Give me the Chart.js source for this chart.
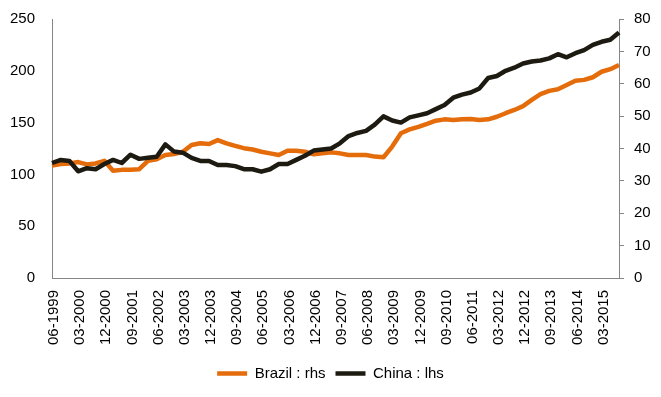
<!DOCTYPE html>
<html>
<head>
<meta charset="utf-8">
<script src="https://cdn.jsdelivr.net/npm/chart.js@4"></script>
<style>
  html, body { margin: 0; padding: 0; background: #fff; }
  #wrap { width: 661px; height: 397px; }
</style>
</head>
<body>
<div id="wrap"><canvas id="chart" width="661" height="397"></canvas></div>
<script>
// quarterly, 06-1999 .. 09-2015
const quarters = [
  '06-1999', '09-1999', '12-1999',
  '03-2000', '06-2000', '09-2000', '12-2000',
  '03-2001', '06-2001', '09-2001', '12-2001',
  '03-2002', '06-2002', '09-2002', '12-2002',
  '03-2003', '06-2003', '09-2003', '12-2003',
  '03-2004', '06-2004', '09-2004', '12-2004',
  '03-2005', '06-2005', '09-2005', '12-2005',
  '03-2006', '06-2006', '09-2006', '12-2006',
  '03-2007', '06-2007', '09-2007', '12-2007',
  '03-2008', '06-2008', '09-2008', '12-2008',
  '03-2009', '06-2009', '09-2009', '12-2009',
  '03-2010', '06-2010', '09-2010', '12-2010',
  '03-2011', '06-2011', '09-2011', '12-2011',
  '03-2012', '06-2012', '09-2012', '12-2012',
  '03-2013', '06-2013', '09-2013', '12-2013',
  '03-2014', '06-2014', '09-2014', '12-2014',
  '03-2015', '06-2015', '09-2015'
];

// Brazil, right hand scale
const brazil = [
  34.7, 35.2, 35.4, 35.8, 35.1, 35.4, 36.2, 33.1, 33.4, 33.4, 33.6,
  36.2, 36.7, 38.0, 38.3, 39.0, 41.1, 41.6, 41.4, 42.6, 41.6, 40.8,
  40.1, 39.7, 39.0, 38.5, 38.0, 39.3, 39.3, 39.0, 38.2, 38.5, 38.8,
  38.5, 38.0, 38.0, 38.0, 37.5, 37.3, 40.6, 44.7, 45.9, 46.7, 47.6,
  48.6, 49.0, 48.8, 49.0, 49.1, 48.8, 49.0, 49.8, 50.9, 51.9, 53.1,
  55.0, 56.8, 57.8, 58.3, 59.6, 60.9, 61.2, 62.0, 63.7, 64.5, 65.8
];

// China, left hand scale
const china = [
  111, 114, 113, 103, 106, 105, 110, 114, 111, 119, 115,
  116, 117, 129, 122, 121, 116, 113, 113, 109, 109, 108,
  105, 105, 102.6, 105, 110, 110, 114, 118, 123, 124, 125,
  130, 137, 140, 142, 148, 156, 152, 150, 155, 157, 159,
  163, 167, 174, 177, 179, 183, 193, 195, 200, 203, 207,
  209, 210, 212, 216, 213, 217, 220, 225, 228, 230, 237
];

const leftTicks = [0, 50, 100, 150, 200, 250];
const rightTicks = [0, 10, 20, 30, 40, 50, 60, 70, 80];

const axisGrey = '#868686';
const font = { family: '"Liberation Sans", Arial, sans-serif', size: 15 };

new Chart(document.getElementById('chart'), {
  type: 'line',
  data: {
    labels: quarters,
    datasets: [
      {
        label: 'Brazil : rhs',
        data: brazil,
        yAxisID: 'y1',
        borderColor: '#E46C0A',
        backgroundColor: '#E46C0A',
        borderWidth: 4.5,
        pointRadius: 0,
        pointStyle: 'line',
        tension: 0,
        borderJoinStyle: 'round',
        order: 2
      },
      {
        label: 'China : lhs',
        data: china,
        yAxisID: 'y',
        borderColor: '#1D1B11',
        backgroundColor: '#1D1B11',
        borderWidth: 4.5,
        pointRadius: 0,
        pointStyle: 'line',
        tension: 0,
        borderJoinStyle: 'round',
        order: 1
      }
    ]
  },
  options: {
    responsive: false,
    animation: false,
    layout: { padding: { top: 18, left: 0, right: 0, bottom: 6 } },
    plugins: {
      tooltip: { enabled: false },
      legend: {
        position: 'bottom',
        labels: {
          usePointStyle: true,
          pointStyleWidth: 30,
          padding: 10,
          color: '#000',
          font: font,
          sort: (a, b) => a.datasetIndex - b.datasetIndex
        }
      }
    },
    scales: {
      x: {
        type: 'category',
        offset: false,
        grid: { display: false, drawTicks: false },
        border: { display: true, color: axisGrey, width: 1 },
        ticks: {
          autoSkip: false,
          maxRotation: 90,
          minRotation: 90,
          padding: 12,
          labelOffset: 2,
          color: '#000',
          font: font,
          callback: function (val, i) { return i % 3 === 0 ? quarters[i] : ''; }
        },
        afterFit: (s) => { s.height = 78; }
      },
      y: {
        position: 'left',
        min: 0,
        max: 250,
        // invisible tick marks keep the labels away from the axis
        grid: { display: true, drawOnChartArea: false, drawTicks: true, tickLength: 17, color: 'rgba(0,0,0,0)' },
        border: { display: true, color: axisGrey, width: 1 },
        afterBuildTicks: (s) => { s.ticks = leftTicks.map(v => ({ value: v })); },
        ticks: { padding: 0, color: '#000', font: font },
        afterFit: (s) => { s.width = 52; }
      },
      y1: {
        position: 'right',
        min: 0,
        max: 80,
        grid: { display: true, drawOnChartArea: false, drawTicks: true, tickLength: 5, color: axisGrey },
        border: { display: true, color: axisGrey, width: 1 },
        afterBuildTicks: (s) => { s.ticks = rightTicks.map(v => ({ value: v })); },
        ticks: { padding: 10, color: '#000', font: font },
        afterFit: (s) => { s.width = 42; }
      }
    }
  }
});
</script>
</body>
</html>
